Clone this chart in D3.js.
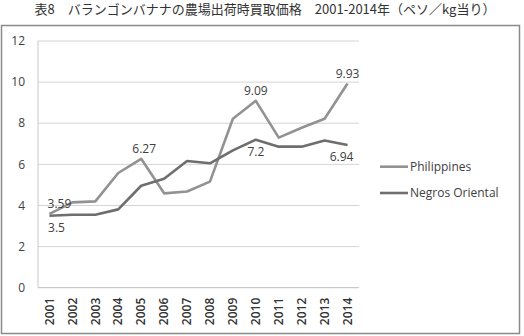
<!DOCTYPE html>
<html>
<head>
<meta charset="utf-8">
<script src="https://cdn.jsdelivr.net/npm/d3@7"></script>
<style>
  body { margin: 0; background: #fff; }
  svg { display: block; }
  text { font-family: "Open Sans", "Noto Sans", sans-serif; fill: #404040; }
</style>
</head>
<body>
<svg id="chart" width="524" height="336"></svg>
<script>
const titleText = '表8　バランゴンバナナの農場出荷時買取価格　2001-2014年（ペソ／kg当り）';
const years = ['2001', '2002', '2003', '2004', '2005', '2006', '2007', '2008', '2009', '2010', '2011', '2012', '2013', '2014'];
const philippines = [3.59, 4.15, 4.2, 5.58, 6.27, 4.59, 4.68, 5.16, 8.22, 9.09, 7.3, 7.78, 8.22, 9.93];
const negros = [3.5, 3.55, 3.55, 3.81, 4.96, 5.3, 6.16, 6.05, 6.68, 7.2, 6.86, 6.86, 7.16, 6.94];
const yTicks = [0, 2, 4, 6, 8, 10, 12];
const seriesNames = ['Philippines', 'Negros Oriental'];

// which points carry a value label
const labels = [
  { s: 0, i: 0, pos: 'above', dx: 10 },
  { s: 0, i: 4, pos: 'above', dx: 3 },
  { s: 0, i: 9, pos: 'above', dx: 0 },
  { s: 0, i: 13, pos: 'above', dx: 0 },
  { s: 1, i: 0, pos: 'below', dx: 7 },
  { s: 1, i: 9, pos: 'below', dx: 0 },
  { s: 1, i: 13, pos: 'below', dx: -6 }
];

const colors = ['#929292', '#6e6e6e'];
const svg = d3.select('#chart');

// title
svg.append('text')
  .attr('x', 265).attr('y', 14)
  .attr('text-anchor', 'middle')
  .style('font-family', '"Noto Sans CJK JP", sans-serif')
  .style('font-size', '13px')
  .style('fill', '#333')
  .text(titleText);

// chart frame
svg.append('rect')
  .attr('x', 1.5).attr('y', 25.5).attr('width', 518).attr('height', 308)
  .attr('fill', 'none').attr('stroke', '#8a8a8a').attr('stroke-width', 1.5);

const x = d3.scaleBand().domain(years).range([38, 359]);
const y = d3.scaleLinear().domain([0, 12]).range([287.7, 41]);

// gridlines
svg.append('g')
  .selectAll('line')
  .data(yTicks)
  .join('line')
  .attr('x1', 38).attr('x2', 359)
  .attr('y1', d => y(d)).attr('y2', d => y(d))
  .attr('stroke', d => d === 0 ? '#bdbdbd' : '#d4d4d4')
  .attr('stroke-width', 1);

svg.append('line')
  .attr('x1', 38).attr('x2', 38)
  .attr('y1', y(12)).attr('y2', y(0))
  .attr('stroke', '#c8c8c8');

// y axis labels
svg.append('g')
  .selectAll('text')
  .data(yTicks)
  .join('text')
  .attr('x', 25).attr('y', d => y(d))
  .attr('dy', '0.35em')
  .attr('text-anchor', 'end')
  .style('font-size', '12px')
  .text(d => d);

// x axis labels, rotated
svg.append('g')
  .selectAll('text')
  .data(years)
  .join('text')
  .attr('transform', d => `translate(${x(d) + x.bandwidth() / 2},${y(0) + 10}) rotate(-90)`)
  .attr('dy', '0.35em')
  .attr('text-anchor', 'end')
  .style('font-size', '12px')
  .style('font-weight', '600')
  .style('fill', '#333')
  .text(d => d);

const cx = (d, i) => x(years[i]) + x.bandwidth() / 2;
const line = d3.line().x(cx).y(d => y(d));

[philippines, negros].forEach((vals, s) => {
  svg.append('path')
    .datum(vals)
    .attr('fill', 'none')
    .attr('stroke', colors[s])
    .attr('stroke-width', 2.6)
    .attr('stroke-linejoin', 'round')
    .attr('d', line);
});

// value labels
const allSeries = [philippines, negros];
svg.append('g')
  .selectAll('text')
  .data(labels)
  .join('text')
  .attr('x', d => cx(null, d.i) + d.dx)
  .attr('y', d => y(allSeries[d.s][d.i]) + (d.pos === 'above' ? -6 : 16))
  .attr('text-anchor', 'middle')
  .style('font-size', '12px')
  .text(d => allSeries[d.s][d.i]);

// legend
const legend = svg.append('g')
  .selectAll('g')
  .data(seriesNames)
  .join('g')
  .attr('transform', (d, i) => `translate(380,${166.7 + i * 26.3})`);

legend.append('line')
  .attr('x1', 0).attr('x2', 28)
  .attr('stroke', (d, i) => colors[i])
  .attr('stroke-width', 2.6);

legend.append('text')
  .attr('x', 30).attr('dy', '0.35em')
  .style('font-size', '12px')
  .text(d => d);
</script>
</body>
</html>
